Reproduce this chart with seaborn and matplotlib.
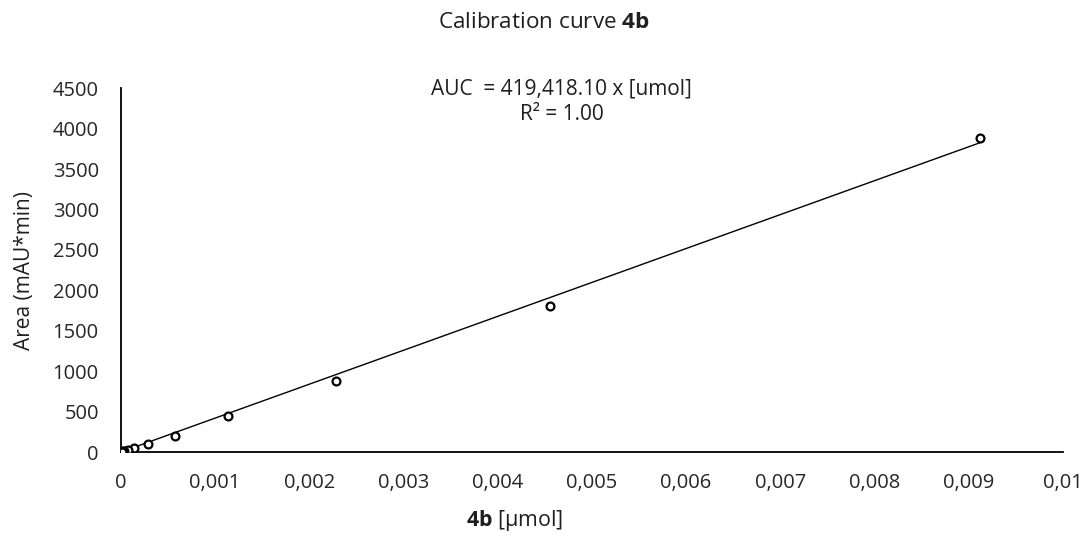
import matplotlib
matplotlib.use("Agg")
import matplotlib.pyplot as plt
import seaborn as sns
import numpy as np
import pandas as pd

# Data
amount_umol = [0.00912, 0.00456, 0.00228, 0.00114, 0.00057, 0.000285,
               0.0001425, 0.0000713, 0.0000356, 0.0000178, 0.0000089]
area = [3890, 1805, 880, 448, 200, 100, 52, 27, 14, 7, 3]
slope = 419418.10
x_ticks = [0, 0.001, 0.002, 0.003, 0.004, 0.005, 0.006, 0.007, 0.008, 0.009, 0.01]
x_ticklabels = ["0", "0,001", "0,002", "0,003", "0,004", "0,005", "0,006",
                "0,007", "0,008", "0,009", "0,01"]
y_ticks = [0, 500, 1000, 1500, 2000, 2500, 3000, 3500, 4000, 4500]

sns.set_theme(style="white")
plt.rcParams['font.family'] = ['Open Sans', 'DejaVu Sans']
plt.rcParams['mathtext.fontset'] = 'custom'
plt.rcParams['mathtext.rm'] = 'Open Sans'
plt.rcParams['mathtext.bf'] = 'Open Sans:bold'

TXT = "#1f1f1f"
fig = plt.figure(figsize=(10.9, 5.41), dpi=100)
ax = fig.add_axes([0.111, 0.1645, 0.864, 0.6725])

df = pd.DataFrame({"x": amount_umol, "y": area})
fit = pd.DataFrame({"x": [0, max(amount_umol)]})
fit["y"] = slope * fit["x"]

sns.lineplot(data=fit, x="x", y="y", ax=ax, color="black", linewidth=1.0)
sns.scatterplot(data=df, x="x", y="y", ax=ax, marker="o", s=32,
                facecolor="white", edgecolor="black", linewidth=1.6, zorder=3)

ax.set_xlim(0, 0.01)
ax.set_ylim(0, 4500)
ax.set_xticks(x_ticks)
ax.set_xticklabels(x_ticklabels)
ax.set_yticks(y_ticks)
ax.set_yticklabels([str(v) for v in y_ticks])
ax.tick_params(axis="both", length=0, labelsize=14.5, colors="#262626")
ax.tick_params(axis="x", pad=15)
ax.tick_params(axis="y", pad=16)
for s in ["top", "right"]:
    ax.spines[s].set_visible(False)
for s in ["left", "bottom"]:
    ax.spines[s].set_color("black")
    ax.spines[s].set_linewidth(1.3)

ax.set_xlabel(r"$\mathbf{4b}$ [µmol]", fontsize=16, color=TXT)
ax.xaxis.set_label_coords((515 - 121) / 942, (452 - 521) / 364)
ax.xaxis.label.set_va("center")
ax.set_ylabel("Area (mAU*min)", fontsize=16, color=TXT)
ax.yaxis.set_label_coords((24 - 121) / 942, 0.5)
ax.yaxis.label.set_va("center")

title = fig.text(544 / 1090, 1 - 22 / 541, r"Calibration curve $\mathbf{4b}$",
                 ha="center", va="center", fontsize=16, color=TXT)

ann = ax.text(0.00468, 4330, "AUC  = 419,418.10 x [umol]\nR² = 1.00", ha="center",
              va="center", fontsize=15, color=TXT, linespacing=1.3)

# scale text sizes to match measured lengths in reference (pixels)
fig.canvas.draw()
r = fig.canvas.get_renderer()
def fit_length(t, target):
    bb = t.get_window_extent(r)
    length = max(bb.width, bb.height)
    t.set_fontsize(t.get_fontsize() * target / length)
fit_length(title, 212)
fit_length(ax.xaxis.label, 97)
fit_length(ax.yaxis.label, 160)

fig.savefig("out.png", dpi=100)
